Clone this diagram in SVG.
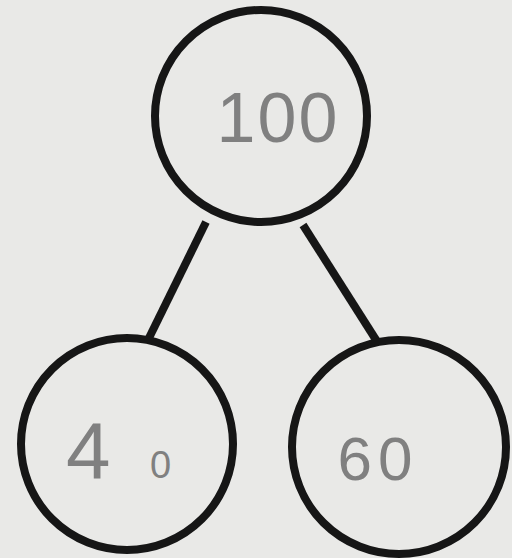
<svg xmlns="http://www.w3.org/2000/svg" width="512" height="558" viewBox="0 0 512 558">
<style>
.c{fill:none;stroke:#161616;stroke-width:8}
.t{font-family:"Liberation Sans",sans-serif;fill:#808080;font-weight:normal}
</style>
<rect width="512" height="558" fill="#e9e9e7"/>
<g id="connectors">
<line class="c" x1="206" y1="222" x2="148" y2="340"/>
<line class="c" x1="303" y1="225" x2="378" y2="343"/>
</g>
<g id="node-100">
<circle class="c" cx="261" cy="116" r="106"/>
<text class="t" x="278" y="142" font-size="70" text-anchor="middle" letter-spacing="2">100</text>
</g>
<g id="node-40">
<circle class="c" cx="127" cy="444" r="106"/>
<text class="t" x="66" y="478" font-size="80">4</text>
<text class="t" x="150" y="478" font-size="38">0</text>
</g>
<g id="node-60">
<circle class="c" cx="399" cy="447" r="107"/>
<text class="t" x="378" y="480" font-size="62" text-anchor="middle" letter-spacing="6">60</text>
</g>
</svg>
